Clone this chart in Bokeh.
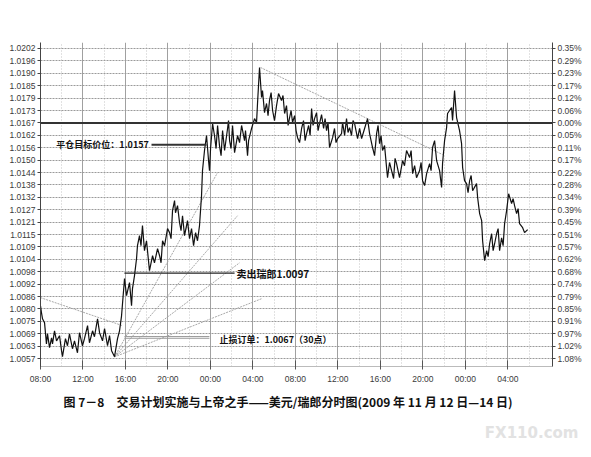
from bokeh.plotting import figure
from bokeh.models import LinearAxis, FixedTicker, Span, Label, Range1d, Title
from bokeh.embed import file_html
from bokeh.resources import INLINE

# ---- data: hours since 08:00 on 12 Nov 2009, USD/CHF price ----
hours = [0.00, 0.09, 0.19, 0.38, 0.56, 0.66, 0.85, 1.04, 1.13, 1.32, 1.51, 1.79, 1.98, 2.07, 2.35, 2.54,
         2.73, 3.01, 3.20, 3.48, 3.67, 3.95, 4.14, 4.43, 4.61, 4.90, 5.08, 5.37, 5.56, 5.84, 6.03, 6.31,
         6.50, 6.69, 6.97,
         7.25, 7.44, 7.63, 7.91, 8.10, 8.38, 8.57, 8.66, 8.85, 9.04, 9.13, 9.32, 9.60, 9.79, 9.98, 10.26,
         10.55, 10.73, 11.02, 11.21, 11.49, 11.68, 11.96, 12.15, 12.43, 12.62, 12.71, 12.90, 13.09, 13.37,
         13.56, 13.84, 14.03, 14.22, 14.41, 14.60, 14.78, 14.97, 15.16, 15.25, 15.44, 15.63, 15.82, 15.91,
         16.01, 16.20, 16.38, 16.67, 16.85, 17.14, 17.33, 17.61, 17.80, 18.08, 18.27, 18.55, 18.74, 18.93,
         19.21, 19.30, 19.49, 19.59, 19.87, 20.15, 20.34, 20.43, 20.62, 20.81, 20.90, 21.28, 21.56, 21.85,
         22.22, 22.41, 22.69, 22.98, 23.45, 23.73, 24.20, 24.58, 25.05, 25.52, 25.80, 26.27, 26.93, 27.21,
         27.50, 27.97, 28.34, 28.44, 29.10, 29.57, 29.85, 30.23, 30.51, 30.79, 30.98, 31.26, 31.64, 31.92,
         32.20, 32.58, 32.67, 33.05, 33.52, 33.80, 34.09, 34.46, 34.75, 35.03, 35.40, 35.69, 35.97, 36.35,
         36.63, 36.91, 37.29, 37.57, 37.76, 37.85, 38.04, 38.23, 38.32, 38.70, 38.79, 38.98, 39.17, 39.45,
         39.64, 39.74, 39.92, 40.11, 40.40, 40.68, 41.05, 41.15, 41.34, 41.53, 41.62, 41.81, 42.00, 42.28,
         42.47, 42.75, 42.94, 43.22, 43.41, 43.69, 43.88, 44.07, 44.35, 44.63, 44.82, 45.10, 45.39, 45.57,
         45.86]
price = [1.00817, 1.00785, 1.00756, 1.00738, 1.00639, 1.00686, 1.00621, 1.00667, 1.00639, 1.00700,
         1.00653, 1.00677, 1.00607, 1.00579, 1.00663, 1.00630, 1.00686, 1.00616, 1.00653, 1.00597,
         1.00691, 1.00630, 1.00663, 1.00724, 1.00644, 1.00700, 1.00672, 1.00756, 1.00691, 1.00653,
         1.00710, 1.00630, 1.00677, 1.00607, 1.00579,
         1.00663, 1.00700, 1.00770, 1.00944, 1.00864, 1.00925, 1.00817, 1.00897, 1.00958, 1.01037,
         1.01098, 1.01145, 1.01192, 1.01075, 1.01121, 1.00981, 1.01051, 1.01018, 1.01084, 1.01051,
         1.01121, 1.01098, 1.01178, 1.01159, 1.01262, 1.01309, 1.01252, 1.01285, 1.01206, 1.01238,
         1.01145, 1.01215, 1.01131, 1.01178, 1.01098, 1.01159, 1.01121, 1.01192, 1.01332, 1.01449,
         1.01543, 1.01613, 1.01496, 1.01449, 1.01552, 1.01669, 1.01613, 1.01660, 1.01566, 1.01636,
         1.01543, 1.01646, 1.01589, 1.01660, 1.01533, 1.01613, 1.01580, 1.01660, 1.01589, 1.01636,
         1.01519, 1.01589, 1.01646, 1.01692, 1.01674, 1.01763, 1.01931, 1.01791, 1.01823, 1.01763,
         1.01777, 1.01730, 1.01753, 1.01809, 1.01777, 1.01716, 1.01697, 1.01674, 1.01603, 1.01646,
         1.01622, 1.01739, 1.01692, 1.01669, 1.01636, 1.01557, 1.01603, 1.01599, 1.01622, 1.01674,
         1.01650, 1.01669, 1.01599, 1.01599, 1.01646, 1.01692, 1.01622, 1.01557, 1.01622, 1.01575,
         1.01543, 1.01463, 1.01416, 1.01449, 1.01482, 1.01416, 1.01496, 1.01543, 1.01510, 1.01435,
         1.01416, 1.01449, 1.01402, 1.01435, 1.01482, 1.01557, 1.01496, 1.01449, 1.01370, 1.01482,
         1.01589, 1.01650, 1.01716, 1.01744, 1.01683, 1.01823, 1.01697, 1.01636, 1.01575, 1.01463,
         1.01402, 1.01388, 1.01402, 1.01355, 1.01388, 1.01323, 1.01248, 1.01215, 1.01121, 1.01028,
         1.01075, 1.01107, 1.01154, 1.01107, 1.01154, 1.01075, 1.01135, 1.01201, 1.01262, 1.01341,
         1.01295, 1.01285, 1.01248, 1.01201, 1.01182, 1.01159, 1.01173]

# finer swings read between the main turning points
detail_hours = [9.46, 11.35, 12.29, 13.23, 16.53, 17.00, 17.70, 17.94,
                21.09, 21.42, 21.71, 22.03, 22.83, 23.16, 23.31, 23.59, 23.92, 24.06, 24.39,
                24.76, 24.91, 25.24, 25.38, 25.66, 25.99, 26.13, 26.46, 26.65, 26.79, 27.07,
                27.68, 27.82, 28.63, 28.81, 28.95, 29.28, 29.42, 30.04, 31.45, 31.78, 32.06,
                32.39, 32.86, 33.24, 33.38, 34.27, 34.89, 35.22, 35.83, 36.16, 36.77, 37.10,
                40.25, 40.54, 42.14, 42.61, 43.08, 43.55, 44.49, 44.96]
detail_price = [1.01098, 1.01018, 1.01131, 1.01168, 1.01552, 1.01519, 1.01683, 1.01552,
                1.01720, 1.01706, 1.01814, 1.01683, 1.01800, 1.01753, 1.01660, 1.01730, 1.01706,
                1.01636, 1.01580, 1.01683, 1.01589, 1.01660, 1.01613, 1.01660, 1.01720, 1.01636,
                1.01711, 1.01646, 1.01692, 1.01674, 1.01646, 1.01580, 1.01613, 1.01692, 1.01627,
                1.01613, 1.01683, 1.01646, 1.01519, 1.01660, 1.01613, 1.01566, 1.01487, 1.01412,
                1.01506, 1.01472, 1.01543, 1.01472, 1.01487, 1.01379, 1.01449, 1.01589,
                1.01346, 1.01426, 1.01047, 1.01075, 1.01178, 1.01098, 1.01318, 1.01271]

y_tick_labels = ["1.0202", "1.0196", "1.0190", "1.0185", "1.0179", "1.0173", "1.0167", "1.0162",
                 "1.0156", "1.0150", "1.0144", "1.0138", "1.0132", "1.0127", "1.0121", "1.0115",
                 "1.0109", "1.0104", "1.0098", "1.0092", "1.0086", "1.0080", "1.0075", "1.0069",
                 "1.0063", "1.0057"]
pct_labels = ["0.35%", "0.29%", "0.23%", "0.17%", "0.12%", "0.06%", "0.00%", "0.05%", "0.11%",
              "0.17%", "0.22%", "0.28%", "0.34%", "0.39%", "0.45%", "0.51%", "0.57%", "0.62%",
              "0.68%", "0.74%", "0.79%", "0.85%", "0.91%", "0.97%", "1.02%", "1.08%"]
x_tick_hours = [0, 4, 8, 12, 16, 20, 24, 28, 32, 36, 40, 44]
x_tick_labels = ["08:00", "12:00", "16:00", "20:00", "00:00", "04:00",
                 "08:00", "12:00", "16:00", "20:00", "00:00", "04:00"]

# reference levels
target_price = 1.0157
sell_price = 1.0097
stop_price = 1.0067

# trend / fan lines (hours, price)
fan_x0 = [6.97, 6.97, 6.97, 6.97, 0.00, 20.72]
fan_y0 = [1.00578, 1.00578, 1.00578, 1.00578, 1.00855, 1.01931]
fan_x1 = [16.67, 18.55, 18.74, 20.81, 7.72, 37.85]
fan_y1 = [1.01440, 1.01238, 1.01018, 1.00850, 1.00724, 1.01524]

caption = "图 7－8　交易计划实施与上帝之手——美元/瑞郎分时图(2009 年 11 月 12 日—14 日)"
watermark = "FX110.com"

# merge the main turning points with the finer swings, in time order
merged = sorted(zip(hours + detail_hours, price + detail_price))
line_x = [m[0] for m in merged]
line_y = [m[1] for m in merged]

# ---- figure ----
STEP = 0.00058
y_ticks = [round(1.0202 - i * STEP, 6) for i in range(len(y_tick_labels))]
Y_TOP = 1.02048
Y_BOT = 1.00533

p = figure(width=591, height=457, output_backend="svg", toolbar_location=None,
           x_range=Range1d(0, 48.2), y_range=Range1d(Y_BOT, Y_TOP),
           min_border_left=40, min_border_right=39, min_border_top=42, min_border_bottom=91,
           background_fill_color="white", border_fill_color="white", outline_line_color=None)

# grids
p.xgrid.ticker = FixedTicker(ticks=x_tick_hours, minor_ticks=[h + 2 for h in x_tick_hours])
p.xgrid.grid_line_color = "#a0a0a0"
p.xgrid.grid_line_width = 1
p.xgrid.minor_grid_line_color = "#c4c4c4"
p.xgrid.minor_grid_line_dash = "1 2"
p.ygrid.ticker = FixedTicker(ticks=y_ticks)
p.ygrid.grid_line_color = "#9a9a9a"
p.ygrid.grid_line_dash = "2 1"
p.ygrid.grid_line_width = 1

FONT = "Liberation Sans"
LAB_COL = "#3a3a3a"

# left axis
ya = p.yaxis[0]
ya.ticker = FixedTicker(ticks=y_ticks)
ya.major_label_overrides = {t: l for t, l in zip(y_ticks, y_tick_labels)}
ya.minor_tick_line_color = None
ya.major_tick_in = 0
ya.major_tick_out = 3
ya.major_label_standoff = 2
ya.axis_line_color = "#444"
ya.major_tick_line_color = "#444"
ya.major_label_text_font = FONT
ya.major_label_text_font_size = "8.5px"
ya.major_label_text_color = LAB_COL

# right axis
ra = LinearAxis(ticker=FixedTicker(ticks=y_ticks),
                major_label_overrides={t: l for t, l in zip(y_ticks, pct_labels)})
ra.minor_tick_line_color = None
ra.major_tick_in = 0
ra.major_tick_out = 3
ra.major_label_standoff = 2
ra.axis_line_color = "#444"
ra.major_tick_line_color = "#444"
ra.major_label_text_font = FONT
ra.major_label_text_font_size = "8.5px"
ra.major_label_text_color = LAB_COL
p.add_layout(ra, "right")

# bottom axis
xa = p.xaxis[0]
xa.ticker = FixedTicker(ticks=x_tick_hours)
xa.major_label_overrides = {t: l for t, l in zip(x_tick_hours, x_tick_labels)}
xa.minor_tick_line_color = None
xa.axis_line_color = "#bbbbbb"
xa.major_tick_in = 6
xa.major_tick_out = 3
xa.major_tick_line_color = "#555"
xa.major_label_standoff = 4
xa.major_label_text_font = FONT
xa.major_label_text_font_size = "8.5px"
xa.major_label_text_color = LAB_COL

# 0.00% reference line
p.add_layout(Span(location=y_ticks[y_tick_labels.index("1.0167")], dimension="width",
                  line_color="#333333", line_width=2))

# fan / trend lines
p.segment(fan_x0, fan_y0, fan_x1, fan_y1, line_color="#a8a8a8", line_width=1, line_dash="2 1")

# price line
p.line(line_x, line_y, line_color="#111111", line_width=1.2)

# annotation lines
p.segment([10.45], [target_price], [15.63], [target_price], line_color="#333333", line_width=2)
p.segment([7.9], [sell_price], [18.27], [sell_price], line_color="#222222", line_width=1.3)
p.segment([7.9, 7.9], [stop_price + 0.00003, stop_price - 0.00005], [15.9, 15.9],
          [stop_price + 0.00003, stop_price - 0.00005], line_color="#9a9a9a", line_width=1)

CJK = "Noto Sans CJK SC"
p.add_layout(Label(x=10.2, y=target_price, text="平仓目标价位：1.0157", text_align="right",
                   text_baseline="middle", text_font=CJK, text_font_size="9px",
                   text_font_style="bold", text_color="#111"))
p.add_layout(Label(x=18.45, y=sell_price, text="卖出瑞郎1.0097", text_align="left",
                   text_baseline="middle", text_font=CJK, text_font_size="10px",
                   text_font_style="bold", text_color="#111"))
p.add_layout(Label(x=16.85, y=stop_price - 0.0001, text="止损订单：1.0067（30点）", text_align="left",
                   text_baseline="middle", text_font=CJK, text_font_size="9px",
                   text_font_style="bold", text_color="#111"))

# caption and watermark below the chart
p.add_layout(Title(text=caption, align="left", text_font=CJK, text_font_size="12px",
                   text_font_style="bold", text_color="#111", standoff=8, offset=23), "below")
p.add_layout(Title(text=watermark, align="right", text_font="DejaVu Sans", text_font_size="15px",
                   text_font_style="bold", text_color="#e2e2e2", standoff=17, offset=-26), "below")

open("out.html", "w").write(file_html(p, INLINE))
